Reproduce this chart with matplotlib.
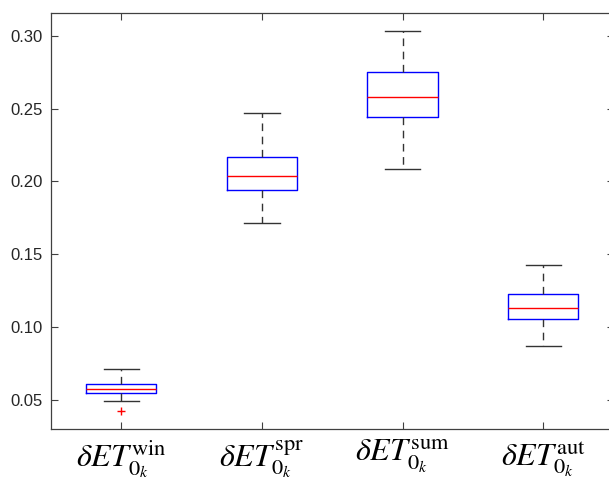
import matplotlib
matplotlib.use("Agg")
import matplotlib.pyplot as plt

plt.rcParams['mathtext.fontset'] = 'stix'
plt.rcParams['font.family'] = ['Liberation Sans', 'DejaVu Sans']

labels = [r'$\delta ET_{0_k}^{\mathrm{win}}$', r'$\delta ET_{0_k}^{\mathrm{spr}}$',
          r'$\delta ET_{0_k}^{\mathrm{sum}}$', r'$\delta ET_{0_k}^{\mathrm{aut}}$']
whislo = [0.0493, 0.1714, 0.2087, 0.0867]
q1 = [0.0546, 0.1938, 0.2440, 0.1055]
med = [0.0573, 0.2034, 0.2582, 0.1133]
q3 = [0.0610, 0.2165, 0.2749, 0.1224]
whishi = [0.0709, 0.2468, 0.3032, 0.1427]
fliers = [[0.0425], [], [], []]

stats = []
for i in range(4):
    stats.append(dict(whislo=whislo[i], q1=q1[i], med=med[i], q3=q3[i],
                      whishi=whishi[i], fliers=fliers[i], label=labels[i]))

fig = plt.figure(figsize=(6.09, 4.80), dpi=100)
W, H = 609, 480
ax = fig.add_axes([51 / W, 1 - 428.7 / H, (613.5 - 51) / W, (428.7 - 12.7) / H])

ax.bxp(stats, positions=[1, 2, 3, 4], widths=0.5, showfliers=True,
       boxprops=dict(color='#0000ff', linewidth=1.0),
       medianprops=dict(color='#ff0000', linewidth=1.0),
       whiskerprops=dict(color='#333333', linestyle=(0, (5.5, 4)), linewidth=1.0),
       capprops=dict(color='#333333', linewidth=1.0),
       flierprops=dict(marker='+', markeredgecolor='#ff0000', markersize=6,
                       linestyle='none'))

ax.set_xlim(0.5, 4.5)
ax.set_ylim(0.030, 0.316)
ax.set_yticks([0.05, 0.10, 0.15, 0.20, 0.25, 0.30])
ax.set_yticklabels(['0.05', '0.10', '0.15', '0.20', '0.25', '0.30'])
ax.set_xticks([1, 2, 3, 4])
ax.set_xticklabels(labels, fontsize=23)
ax.tick_params(axis='both', direction='in', length=5, width=0.8, color='#404040',
               top=True, right=True)
ax.tick_params(axis='y', labelsize=12, pad=6, labelcolor='#262626')
ax.tick_params(axis='x', pad=7, labelcolor='black')
for s in ax.spines.values():
    s.set_color('#404040')
    s.set_linewidth(0.9)

fig.savefig('out.png', dpi=100)
